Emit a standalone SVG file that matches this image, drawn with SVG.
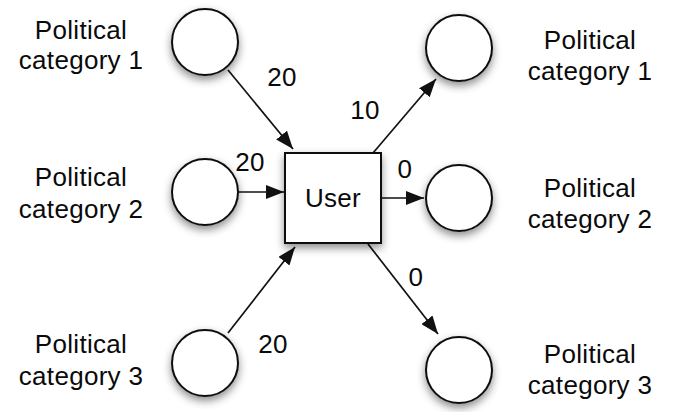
<svg xmlns="http://www.w3.org/2000/svg" width="676" height="412" viewBox="0 0 676 412">
<style>
.node{fill:#fff;stroke:#111;stroke-width:2;filter:url(#sh)}
.lbl{font-family:"Liberation Sans",Arial,sans-serif;font-size:26px;letter-spacing:0.3px;fill:#0a0a0a;text-anchor:middle}
.edge{stroke:#111;stroke-width:1.7;fill:none;marker-end:url(#ah)}
</style>
<defs>
<filter id="sh" x="-40%" y="-40%" width="180%" height="180%">
<feDropShadow dx="0" dy="4" stdDeviation="4" flood-color="#000" flood-opacity="0.45"/>
</filter>
<marker id="ah" viewBox="0 0 18 14" refX="18" refY="7" markerWidth="18" markerHeight="14" markerUnits="userSpaceOnUse" orient="auto">
<path d="M0,0 L18,7 L0,14 Z" fill="#111"/>
</marker>
</defs>
<g id="connectors">
<line class="edge" x1="228" y1="70" x2="293" y2="149"/>
<line class="edge" x1="238" y1="192" x2="284" y2="192"/>
<line class="edge" x1="228" y1="333" x2="295" y2="247"/>
<line class="edge" x1="373" y1="153" x2="436" y2="79"/>
<line class="edge" x1="381" y1="198" x2="424" y2="198"/>
<line class="edge" x1="368" y1="244" x2="438" y2="334"/>
<text class="lbl" x="282" y="86">20</text>
<text class="lbl" x="250" y="171">20</text>
<text class="lbl" x="273" y="353">20</text>
<text class="lbl" x="365" y="119">10</text>
<text class="lbl" x="405" y="178">0</text>
<text class="lbl" x="416" y="286">0</text>
</g>
<g id="user"><rect class="node" x="285" y="153" width="96" height="90"/><text class="lbl" x="333" y="207">User</text></g>
<g id="left1"><circle class="node" cx="205" cy="42" r="33"/><text class="lbl" x="81" y="39">Political</text><text class="lbl" x="81" y="69">category 1</text></g>
<g id="left2"><circle class="node" cx="205" cy="192" r="33"/><text class="lbl" x="81" y="186">Political</text><text class="lbl" x="81" y="218">category 2</text></g>
<g id="left3"><circle class="node" cx="205" cy="363" r="33"/><text class="lbl" x="81" y="353">Political</text><text class="lbl" x="81" y="385">category 3</text></g>
<g id="right1"><circle class="node" cx="459" cy="48" r="33"/><text class="lbl" x="590" y="49">Political</text><text class="lbl" x="590" y="80">category 1</text></g>
<g id="right2"><circle class="node" cx="459" cy="198" r="33"/><text class="lbl" x="590" y="197">Political</text><text class="lbl" x="590" y="228">category 2</text></g>
<g id="right3"><circle class="node" cx="459" cy="370" r="33"/><text class="lbl" x="590" y="363">Political</text><text class="lbl" x="590" y="394">category 3</text></g>
</svg>
